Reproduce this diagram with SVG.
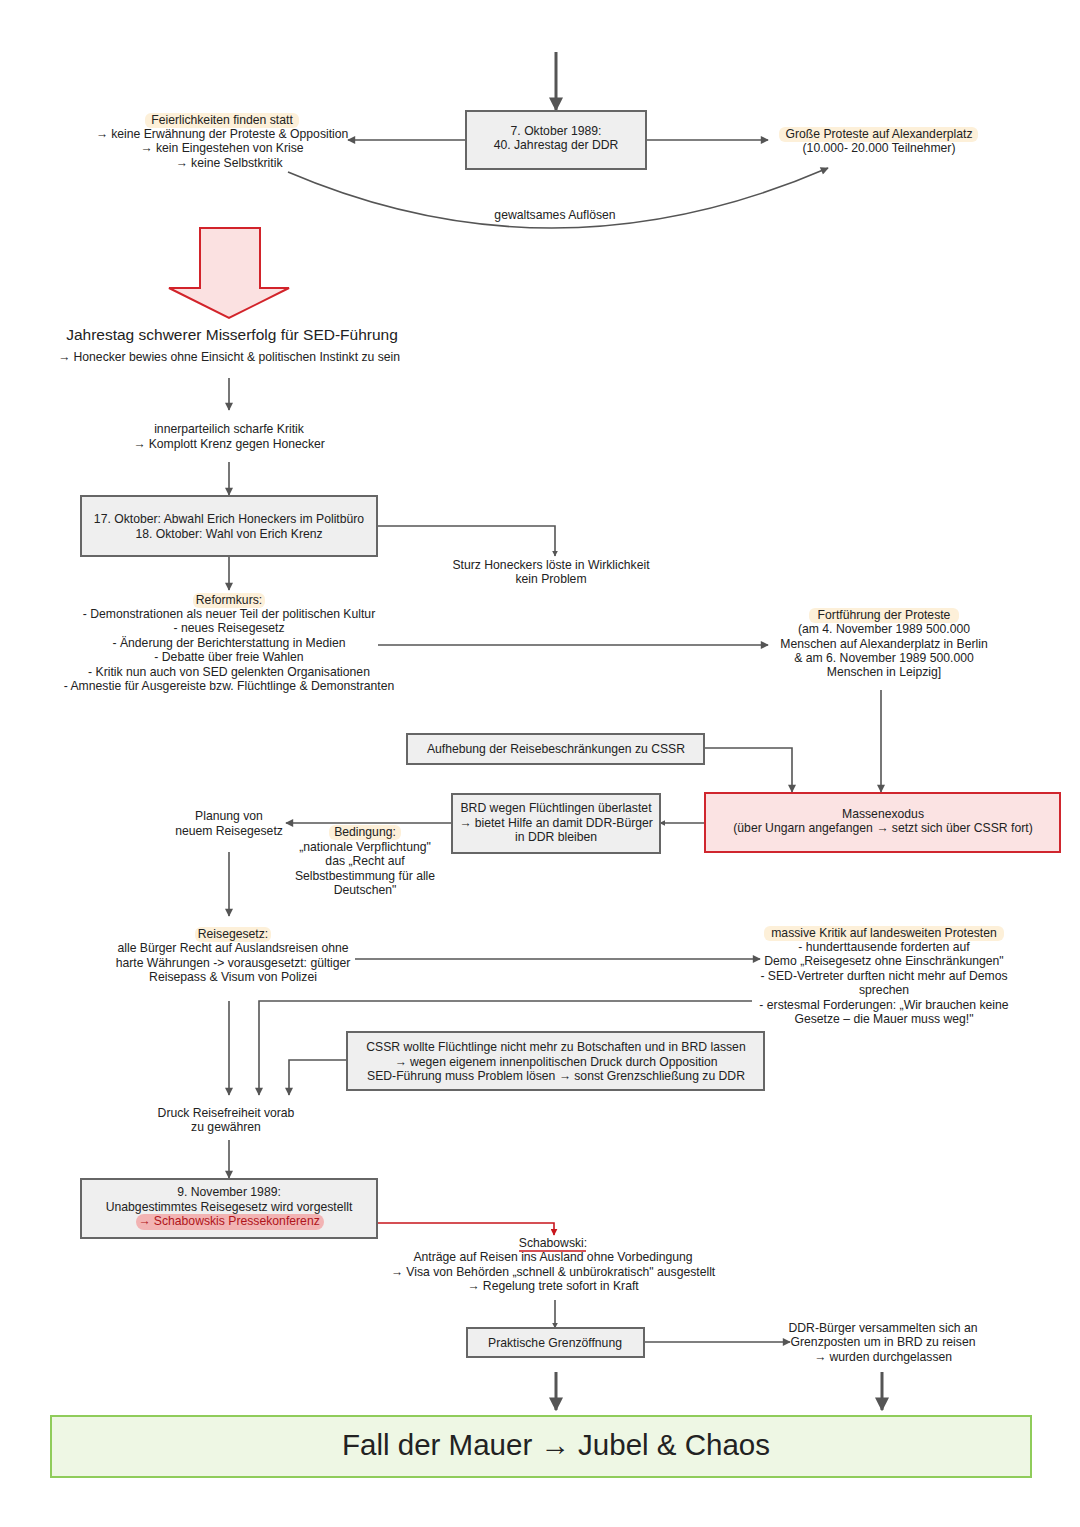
<svg xmlns="http://www.w3.org/2000/svg" width="1080" height="1527" viewBox="0 0 1080 1527">
<defs>
<style>
text{font-family:"Liberation Sans",Arial,sans-serif;font-size:12.2px;fill:#222;text-anchor:middle}
.box{fill:#efefef;stroke:#666;stroke-width:2}
.ln{fill:none;stroke:#555;stroke-width:1.6}
.thick{fill:none;stroke:#555;stroke-width:3}
.hl{fill:#fdf0d9}
.red{fill:none;stroke:#c8161d;stroke-width:1.6}
</style>
<marker id="ah" viewBox="0 0 10 10" refX="9" refY="5" markerWidth="6" markerHeight="6" orient="auto" markerUnits="userSpaceOnUse"><path d="M0,0 L10,5 L0,10 z" fill="#555"/></marker>
<marker id="am" viewBox="0 0 10 10" refX="9" refY="5" markerWidth="9" markerHeight="8" orient="auto" markerUnits="userSpaceOnUse"><path d="M0,0 L10,5 L0,10 z" fill="#555"/></marker>
<marker id="ab" viewBox="0 0 10 10" refX="9" refY="5" markerWidth="14" markerHeight="14" orient="auto" markerUnits="userSpaceOnUse"><path d="M0,0 L10,5 L0,10 z" fill="#555"/></marker>
<marker id="ar" viewBox="0 0 10 10" refX="9" refY="5" markerWidth="7" markerHeight="7" orient="auto" markerUnits="userSpaceOnUse"><path d="M0,0 L10,5 L0,10 z" fill="#c8161d"/></marker>
</defs>
<rect width="1080" height="1527" fill="#fff"/>

<g id="connectors">
<line class="thick" x1="556" y1="52" x2="556" y2="110" marker-end="url(#ab)"/>
<line class="ln" x1="466" y1="140" x2="348" y2="140" marker-end="url(#am)"/>
<line class="ln" x1="646" y1="140" x2="768" y2="140" marker-end="url(#am)"/>
<path class="ln" d="M288,172 Q555,286 828,168" marker-end="url(#am)"/>
<line class="ln" x1="229" y1="378" x2="229" y2="410" marker-end="url(#am)"/>
<line class="ln" x1="229" y1="462" x2="229" y2="495" marker-end="url(#am)"/>
<polyline class="ln" points="377,526 555,526 555,556" marker-end="url(#ah)"/>
<line class="ln" x1="229" y1="556" x2="229" y2="590" marker-end="url(#am)"/>
<line class="ln" x1="378" y1="645" x2="768" y2="645" marker-end="url(#am)"/>
<line class="ln" x1="881" y1="690" x2="881" y2="792" marker-end="url(#am)"/>
<polyline class="ln" points="704,748 792,748 792,792" marker-end="url(#am)"/>
<line class="ln" x1="705" y1="823" x2="660" y2="823" marker-end="url(#ah)"/>
<line class="ln" x1="452" y1="823" x2="286" y2="823" marker-end="url(#am)"/>
<line class="ln" x1="229" y1="852" x2="229" y2="916" marker-end="url(#am)"/>
<line class="ln" x1="355" y1="959" x2="760" y2="959" marker-end="url(#am)"/>
<polyline class="ln" points="752,1001 259,1001 259,1095" marker-end="url(#am)"/>
<line class="ln" x1="229" y1="1001" x2="229" y2="1095" marker-end="url(#am)"/>
<polyline class="ln" points="347,1060 289,1060 289,1095" marker-end="url(#am)"/>
<line class="ln" x1="229" y1="1140" x2="229" y2="1178" marker-end="url(#am)"/>
<polyline class="red" points="327,1223 554,1223 554,1235" marker-end="url(#ar)"/>
<line class="ln" x1="555" y1="1300" x2="555" y2="1328" marker-end="url(#ah)"/>
<line class="ln" x1="644" y1="1342" x2="790" y2="1342" marker-end="url(#am)"/>
<line class="thick" x1="556" y1="1372" x2="556" y2="1410" marker-end="url(#ab)"/>
<line class="thick" x1="882" y1="1372" x2="882" y2="1410" marker-end="url(#ab)"/>
</g>

<g id="n-jahrestag">
<rect class="box" x="466" y="111" width="180" height="58"/>
<text x="556" y="135">7. Oktober 1989:</text>
<text x="556" y="149">40. Jahrestag der DDR</text>
</g>

<g id="n-feier">
<rect class="hl" x="145" y="113" width="154" height="15" rx="6"/>
<text x="222" y="124">Feierlichkeiten finden statt</text>
<text x="222" y="138">→ keine Erwähnung der Proteste &amp; Opposition</text>
<text x="222" y="152">→ kein Eingestehen von Krise</text>
<text x="229" y="167">→ keine Selbstkritik</text>
</g>

<g id="n-proteste">
<rect class="hl" x="779" y="127" width="199" height="15" rx="6"/>
<text x="879" y="138">Große Proteste auf Alexanderplatz</text>
<text x="879" y="152">(10.000- 20.000 Teilnehmer)</text>
</g>

<g id="n-aufloesen">
<text x="555" y="219">gewaltsames Auflösen</text>
</g>

<g id="n-bigarrow">
<path d="M200,228 L260,228 L260,288 L289,288 L229,318 L169,288 L200,288 Z" fill="#fbe1e1" stroke="#d2232a" stroke-width="2" stroke-linejoin="miter"/>
</g>

<g id="n-misserfolg">
<text x="232" y="340" style="font-size:15.5px">Jahrestag schwerer Misserfolg für SED-Führung</text>
<text x="229" y="361">→ Honecker bewies ohne Einsicht &amp; politischen Instinkt zu sein</text>
</g>

<g id="n-kritik">
<text x="229" y="433">innerparteilich scharfe Kritik</text>
<text x="229" y="448">→ Komplott Krenz gegen Honecker</text>
</g>

<g id="n-abwahl">
<rect class="box" x="81" y="496" width="296" height="60"/>
<text x="229" y="523">17. Oktober: Abwahl Erich Honeckers im Politbüro</text>
<text x="229" y="538">18. Oktober: Wahl von Erich Krenz</text>
</g>

<g id="n-sturz">
<text x="551" y="569">Sturz Honeckers löste in Wirklichkeit</text>
<text x="551" y="583">kein Problem</text>
</g>

<g id="n-reformkurs">
<rect class="hl" x="193" y="593" width="72" height="15" rx="6"/>
<text x="229" y="604">Reformkurs:</text>
<text x="229" y="618">- Demonstrationen als neuer Teil der politischen Kultur</text>
<text x="229" y="632">- neues Reisegesetz</text>
<text x="229" y="647">- Änderung der Berichterstattung in Medien</text>
<text x="229" y="661">- Debatte über freie Wahlen</text>
<text x="229" y="676">- Kritik nun auch von SED gelenkten Organisationen</text>
<text x="229" y="690">- Amnestie für Ausgereiste bzw. Flüchtlinge &amp; Demonstranten</text>
</g>

<g id="n-fortfuehrung">
<rect class="hl" x="809" y="608" width="150" height="15" rx="6"/>
<text x="884" y="619">Fortführung der Proteste</text>
<text x="884" y="633">(am 4. November 1989 500.000</text>
<text x="884" y="648">Menschen auf Alexanderplatz in Berlin</text>
<text x="884" y="662">&amp; am 6. November 1989 500.000</text>
<text x="884" y="676">Menschen in Leipzig]</text>
</g>

<g id="n-aufhebung">
<rect class="box" x="407" y="734" width="297" height="30"/>
<text x="556" y="753">Aufhebung der Reisebeschränkungen zu CSSR</text>
</g>

<g id="n-massenexodus">
<rect x="705" y="793" width="355" height="59" fill="#fbe3e3" stroke="#d0262e" stroke-width="2"/>
<text x="883" y="818">Massenexodus</text>
<text x="883" y="832">(über Ungarn angefangen → setzt sich über CSSR fort)</text>
</g>

<g id="n-brd">
<rect class="box" x="452" y="794" width="208" height="59"/>
<text x="556" y="812">BRD wegen Flüchtlingen überlastet</text>
<text x="556" y="827">→ bietet Hilfe an damit DDR-Bürger</text>
<text x="556" y="841">in DDR bleiben</text>
</g>

<g id="n-planung">
<text x="229" y="820">Planung von</text>
<text x="229" y="835">neuem Reisegesetz</text>
</g>

<g id="n-bedingung">
<rect class="hl" x="329" y="825" width="72" height="15" rx="6"/>
<text x="365" y="836">Bedingung:</text>
<text x="365" y="851">„nationale Verpflichtung"</text>
<text x="365" y="865">das „Recht auf</text>
<text x="365" y="880">Selbstbestimmung für alle</text>
<text x="365" y="894">Deutschen"</text>
</g>

<g id="n-reisegesetz">
<rect class="hl" x="195" y="927" width="76" height="15" rx="6"/>
<text x="233" y="938">Reisegesetz:</text>
<text x="233" y="952">alle Bürger Recht auf Auslandsreisen ohne</text>
<text x="233" y="967">harte Währungen -&gt; vorausgesetzt: gültiger</text>
<text x="233" y="981">Reisepass &amp; Visum von Polizei</text>
</g>

<g id="n-massiv">
<rect class="hl" x="764" y="926" width="240" height="15" rx="6"/>
<text x="884" y="937">massive Kritik auf landesweiten Protesten</text>
<text x="884" y="951">- hunderttausende forderten auf</text>
<text x="884" y="965">Demo „Reisegesetz ohne Einschränkungen"</text>
<text x="884" y="980">- SED-Vertreter durften nicht mehr auf Demos</text>
<text x="884" y="994">sprechen</text>
<text x="884" y="1009">- erstesmal Forderungen: „Wir brauchen keine</text>
<text x="884" y="1023">Gesetze – die Mauer muss weg!"</text>
</g>

<g id="n-cssr">
<rect class="box" x="347" y="1032" width="417" height="58"/>
<text x="556" y="1051">CSSR wollte Flüchtlinge nicht mehr zu Botschaften und in BRD lassen</text>
<text x="556" y="1066">→ wegen eigenem innenpolitischen Druck durch Opposition</text>
<text x="556" y="1080">SED-Führung muss Problem lösen → sonst Grenzschließung zu DDR</text>
</g>

<g id="n-druck">
<text x="226" y="1117">Druck Reisefreiheit vorab</text>
<text x="226" y="1131">zu gewähren</text>
</g>

<g id="n-9nov">
<rect class="box" x="81" y="1179" width="296" height="59"/>
<text x="229" y="1196">9. November 1989:</text>
<text x="229" y="1211">Unabgestimmtes Reisegesetz wird vorgestellt</text>
<rect x="136" y="1214" width="188" height="16" rx="8" fill="#f2b3b3"/>
<text x="229" y="1225" style="fill:#b0141a">→ Schabowskis Pressekonferenz</text>
</g>

<g id="n-schabowski">
<text x="553" y="1247">Schabowski:</text>
<line x1="519" y1="1251" x2="586" y2="1251" stroke="#c8161d" stroke-width="1.3"/>
<text x="553" y="1261">Anträge auf Reisen ins Ausland ohne Vorbedingung</text>
<text x="553" y="1276">→ Visa von Behörden „schnell &amp; unbürokratisch" ausgestellt</text>
<text x="553" y="1290">→ Regelung trete sofort in Kraft</text>
</g>

<g id="n-grenzoeffnung">
<rect class="box" x="467" y="1328" width="177" height="29"/>
<text x="555" y="1347">Praktische Grenzöffnung</text>
</g>

<g id="n-ddrbuerger">
<text x="883" y="1332">DDR-Bürger versammelten sich an</text>
<text x="883" y="1346">Grenzposten um in BRD zu reisen</text>
<text x="883" y="1361">→ wurden durchgelassen</text>
</g>

<g id="n-fall">
<rect x="51" y="1416" width="980" height="61" fill="#eef7e4" stroke="#8fcc5a" stroke-width="2"/>
<text x="556" y="1455" style="font-size:29.5px">Fall der Mauer → Jubel &amp; Chaos</text>
</g>
</svg>
